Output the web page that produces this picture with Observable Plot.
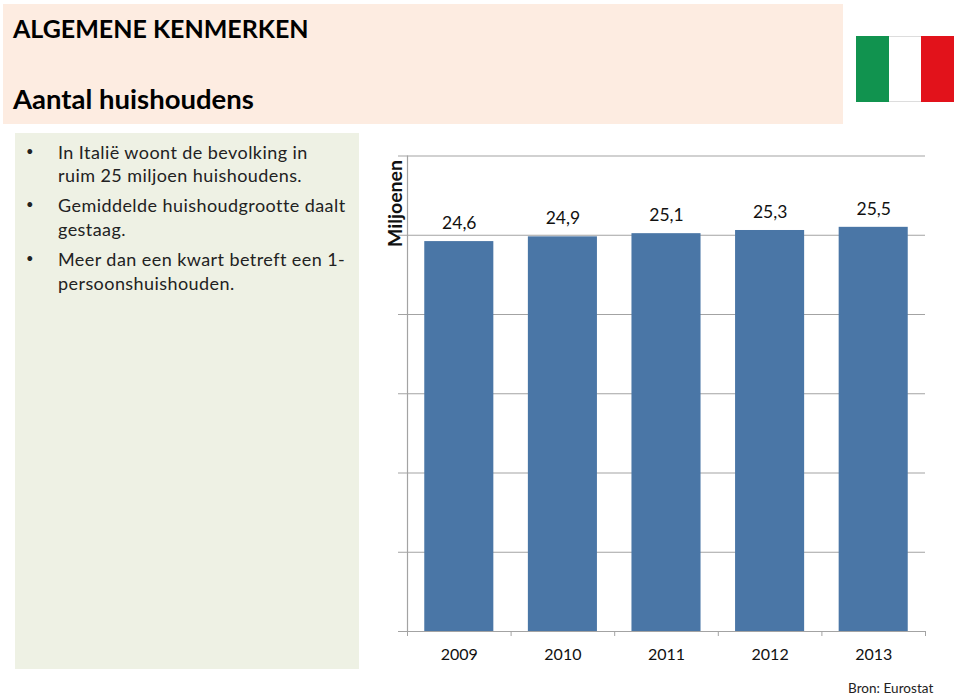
<!DOCTYPE html>
<html lang="nl">
<head>
<meta charset="utf-8">
<script src="https://cdn.jsdelivr.net/npm/d3@7"></script>
<script src="https://cdn.jsdelivr.net/npm/@observablehq/plot@0.6"></script>
<style>
html,body{margin:0;padding:0;background:#fff;width:960px;height:695px;overflow:hidden;font-family:Lato,"Open Sans",sans-serif;color:#000}
.box{position:absolute}
.t{position:absolute;white-space:nowrap;line-height:1;font-weight:700;left:13px;font-size:25px}
.l{position:absolute;white-space:nowrap;line-height:1;font-size:18px;color:#222;letter-spacing:.43px}
#chart{position:absolute;left:0;top:0}
#chart svg{background:transparent}
</style>
</head>
<body>
<div class="box" style="left:3px;top:4px;width:840px;height:120px;background:#fdece1"></div>
<div class="box" style="left:15px;top:133px;width:344px;height:536px;background:#eef1e4"></div>
<div class="box" style="left:856px;top:36px;width:33px;height:66px;background:#11934f"></div>
<div class="box" style="left:889px;top:36px;width:32px;height:66px;background:#fff;box-shadow:inset 0 1px 0 #ddd,inset 0 -1px 0 #ddd"></div>
<div class="box" style="left:921px;top:36px;width:33px;height:66px;background:#e2121b"></div>
<div class="t" style="top:16px" id="t1"></div>
<div class="t" style="top:85px;font-size:27.5px" id="t2"></div>
<div id="body"></div>
<div id="chart"></div>
<div class="l" style="left:848px;top:682px;font-size:13.5px;letter-spacing:.05px" id="src"></div>
<script>
const title = "ALGEMENE KENMERKEN";
const subtitle = "Aantal huishoudens";
const source = "Bron: Eurostat";
const yLabel = "Miljoenen";
const years = [2009, 2010, 2011, 2012, 2013];
const households = [24.6, 24.9, 25.1, 25.3, 25.5];
const yTicks = [0, 5, 10, 15, 20, 25, 30];
const xBoundaries = [2008.5, 2009.5, 2010.5, 2011.5, 2012.5, 2013.5];
const bulletLines = [
  ["In Italië woont de bevolking in", 143, 58, true],
  ["ruim 25 miljoen huishoudens.", 166, 58, false],
  ["Gemiddelde huishoudgrootte daalt", 196, 58, true],
  ["gestaag.", 220, 58, false],
  ["Meer dan een kwart betreft een 1-", 250, 58, true],
  ["persoonshuishouden.", 274, 58, false]
];

document.getElementById("t1").textContent = title;
document.getElementById("t2").textContent = subtitle;
document.getElementById("src").textContent = source;
const bodyEl = document.getElementById("body");
for (const [text, top, left, bullet] of bulletLines) {
  const d = document.createElement("div");
  d.className = "l"; d.style.top = top + "px"; d.style.left = left + "px"; d.textContent = text;
  bodyEl.append(d);
  if (bullet) {
    const b = document.createElement("div");
    b.className = "l"; b.style.top = (top + 2) + "px"; b.style.left = "26px"; b.style.fontSize = "13px"; b.textContent = "•";
    bodyEl.append(b);
  }
}

const data = years.map((year, i) => ({year, value: households[i]}));
const comma = d3.format(".1f");
const axisColor = "#a3a3a3";
const font = "Lato, 'Open Sans', sans-serif";

const plot = Plot.plot({
  width: 960, height: 695,
  marginLeft: 407, marginRight: 35, marginTop: 155.5, marginBottom: 64,
  style: {background: "transparent", fontFamily: font},
  x: {domain: [2008.5, 2013.5]},
  y: {domain: [0, 30]},
  marks: [
    Plot.ruleY(yTicks, {stroke: axisColor, strokeWidth: 1.2, strokeOpacity: 1}),
    Plot.ruleX([2008.5], {stroke: axisColor, strokeWidth: 1.2}),
    Plot.axisY({ticks: yTicks, tickSize: 9, stroke: axisColor, strokeOpacity: 1, tickFormat: () => "", label: null}),
    Plot.axisX({ticks: xBoundaries, tickSize: 5, stroke: axisColor, strokeOpacity: 1, tickFormat: () => "", label: null}),
    Plot.axisX({ticks: years, tickSize: 0, tickPadding: 17, tickFormat: d => String(d), label: null, fontSize: 16, fill: "#111"}),
    Plot.rectY(data, {x1: d => d.year - 1/3, x2: d => d.year + 1/3, y: "value", fill: "#4a76a6"}),
    Plot.text(data, {x: "year", y: "value", text: d => comma(d.value).replace(".", ","), dy: -18, fontSize: 17.5, fill: "#111"}),
    Plot.text([yLabel], {x: [2008.5], y: [27], dx: -12, rotate: -90, fontSize: 19.5, fontWeight: 700, fill: "#111"})
  ]
});
document.getElementById("chart").append(plot);
</script>
</body>
</html>
